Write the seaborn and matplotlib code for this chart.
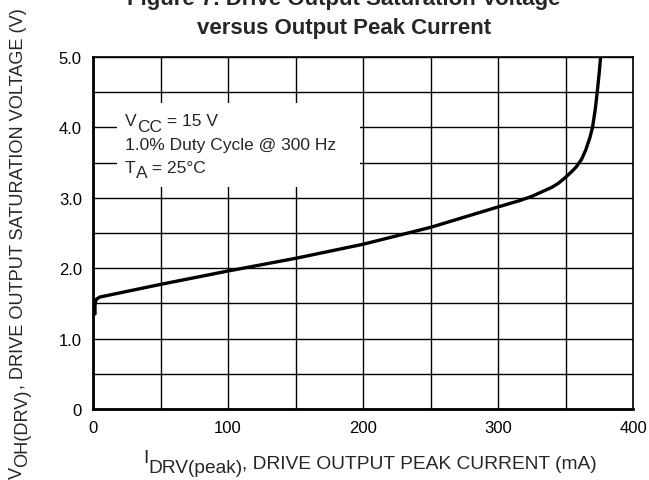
import matplotlib
matplotlib.use("Agg")
import matplotlib.pyplot as plt
import matplotlib.text as mtext
import seaborn as sns
import pandas as pd
from matplotlib.patches import Rectangle

# Data
current_ma = [1.5, 1.5, 2.5, 5, 10, 25, 50, 100, 150, 200, 250, 300, 316, 325, 340, 345, 350, 355, 358, 362, 365, 368, 370, 372, 373.5, 375, 376]
voltage_v = [1.35, 1.50, 1.56, 1.59, 1.61, 1.67, 1.77, 1.96, 2.14, 2.34, 2.58, 2.87, 2.96, 3.02, 3.15, 3.21, 3.29, 3.38, 3.44, 3.55, 3.68, 3.85, 4.0, 4.25, 4.5, 4.78, 5.0]
x_ticks = [0, 100, 200, 300, 400]
x_tick_labels = ["0", "100", "200", "300", "400"]
y_ticks = [0, 1, 2, 3, 4, 5]
y_tick_labels = ["0", "1.0", "2.0", "3.0", "4.0", "5.0"]

W, H = 649, 481

sns.set_theme(style="white")
plt.rcParams["font.family"] = ["Liberation Sans", "DejaVu Sans"]

fig = plt.figure(figsize=(W / 100, H / 100), dpi=100)
ax = fig.add_axes([93 / W, 71 / H, 540 / W, 352 / H])

df = pd.DataFrame({"I": current_ma, "V": voltage_v})
sns.lineplot(data=df, x="I", y="V", ax=ax, color="black", linewidth=2.4,
             sort=False, estimator=None, zorder=3)

ax.set_xlim(0, 400)
ax.set_ylim(0, 5)
ax.set_xticks(x_ticks)
ax.set_xticklabels(x_tick_labels)
ax.set_yticks(y_ticks)
ax.set_yticklabels(y_tick_labels)
ax.set_xticks(range(0, 401, 50), minor=True)
ax.set_yticks([i * 0.5 for i in range(11)], minor=True)
ax.grid(True, which="both", color="black", linewidth=1.0)
ax.set_axisbelow(True)
ax.tick_params(which="both", length=0, labelsize=12, colors="black")
ax.tick_params(axis="x", pad=8)
ax.tick_params(axis="y", pad=8)
ax.set_xlabel("")
ax.set_ylabel("")

for s in ["top", "right"]:
    ax.spines[s].set_color("black")
    ax.spines[s].set_linewidth(1.2)
for s in ["bottom", "left"]:
    ax.spines[s].set_color("black")
    ax.spines[s].set_linewidth(2.0)

# White box behind annotation
ax.add_patch(Rectangle((0.044, 0.631), 0.45, 0.237, transform=ax.transAxes,
                       facecolor="white", edgecolor="none", zorder=1))


def hchain(x_px, y_px, pieces, fs):
    # pieces: list of (text, shift_down_px relative to previous piece)
    t = fig.text(x_px / W, 1 - y_px / H, pieces[0][0], fontsize=fs,
                 ha="left", va="baseline", zorder=4)
    for txt, dpx in pieces[1:]:
        t = fig.add_artist(mtext.Annotation(
            txt, xy=(1, 0), xycoords=t, xytext=(0, -dpx * 0.72),
            textcoords="offset points", ha="left", va="bottom", fontsize=fs))
    return t


def vchain(x_px, y_px, pieces, fs):
    t = fig.text(x_px / W, 1 - y_px / H, pieces[0][0], fontsize=fs, rotation=90,
                 rotation_mode="anchor", ha="left", va="baseline")
    for txt, dpx in pieces[1:]:
        t = fig.add_artist(mtext.Annotation(
            txt, xy=(1, 1), xycoords=t, xytext=(dpx * 0.72, 0),
            textcoords="offset points", ha="right", va="bottom", fontsize=fs,
            rotation=90))
    return t


# Annotation box text
hchain(125, 126.5, [("V", 0), ("CC", 5), (" = 15 V", -5)], 12.5)
hchain(125, 150, [("1.0% Duty Cycle @ 300 Hz", 0)], 12.5)
hchain(125, 173, [("T", 0), ("A", 5), (" = 25°C", -5)], 12.5)

# Axis labels
hchain(143, 463, [("I", 0), ("DRV(peak)", 10), (", DRIVE OUTPUT PEAK CURRENT (mA)", -4)], 13.8)
vchain(22, 479, [("V", 0), ("OH(DRV)", 5), (", DRIVE OUTPUT SATURATION VOLTAGE (V)", -4)], 13.1)

# Title (top line partially cut off in the original)
fig.text(344 / W, 1 - 5 / H, "Figure 7. Drive Output Saturation Voltage",
         ha="center", va="baseline", fontsize=16, fontweight="bold")
fig.text(344 / W, 1 - 34 / H, "versus Output Peak Current",
         ha="center", va="baseline", fontsize=16, fontweight="bold")

fig.savefig("out.png", dpi=100, facecolor="white")
